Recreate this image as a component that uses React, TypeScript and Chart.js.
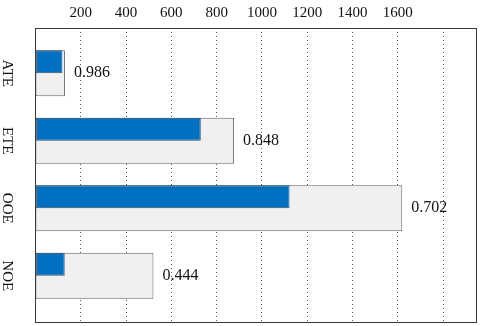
import React, { useEffect, useRef } from "react";
import { Chart, registerables } from "chart.js";

Chart.register(...registerables);

const categories = ["ATE", "ETE", "OOE", "NOE"];
const totalCounts = [130, 877, 1620, 521];
const correctCounts = [119, 730, 1122, 129];
const rateLabels = ["0.986", "0.848", "0.702", "0.444"];
const xTickValues = [200, 400, 600, 800, 1000, 1200, 1400, 1600, 1800];
const xTickLabels = ["200", "400", "600", "800", "1000", "1200", "1400", "1600", ""];

const FONT = "'Liberation Serif', 'DejaVu Serif', serif";

const overlayPlugin = {
  id: "overlay",
  afterDatasetsDraw(chart: any) {
    const { ctx, chartArea, scales } = chart;
    ctx.save();
    // plot frame
    const l = Math.floor(chartArea.left) + 0.5;
    const t = Math.floor(chartArea.top) + 0.5;
    const r = Math.floor(chartArea.right) - 0.5;
    const b = Math.floor(chartArea.bottom) - 0.5;
    ctx.strokeStyle = "#3a3a3a";
    ctx.lineWidth = 1;
    ctx.strokeRect(l, t, r - l, b - t);

    // value labels to the right of the grey bars
    const meta = chart.getDatasetMeta(2);
    ctx.fillStyle = "#111";
    ctx.font = `16px ${FONT}`;
    ctx.textAlign = "left";
    ctx.textBaseline = "middle";
    meta.data.forEach((bar: any, i: number) => {
      ctx.fillText(rateLabels[i], bar.x + 9, bar.y);
    });

    // category labels, rotated to read top-to-bottom
    ctx.font = `15px ${FONT}`;
    categories.forEach((c, i) => {
      const y = scales.y.getPixelForValue(i);
      ctx.save();
      ctx.translate(chartArea.left - 29, y);
      ctx.rotate(Math.PI / 2);
      ctx.textAlign = "center";
      ctx.textBaseline = "middle";
      ctx.fillText(c, 0, 0);
      ctx.restore();
    });
    ctx.restore();
  },
};

export default function App() {
  const ref = useRef<HTMLCanvasElement | null>(null);

  useEffect(() => {
    if (!ref.current) return;
    const chart = new Chart(ref.current, {
      type: "bar",
      data: {
        datasets: [
          {
            label: "correct",
            data: correctCounts.map((v, i) => ({ x: v, y: i })),
            backgroundColor: "#0070c0",
            borderColor: "#3d4f66",
            borderWidth: 1,
            borderSkipped: false,
            grouped: true,
            order: 0,
            categoryPercentage: 0.68,
            barPercentage: 1,
          } as any,
          {
            label: "spacer",
            data: categories.map((_, i) => ({ x: 0, y: i })),
            backgroundColor: "rgba(0,0,0,0)",
            borderWidth: 0,
            grouped: true,
            order: 1,
            categoryPercentage: 0.68,
            barPercentage: 1,
          } as any,
          {
            label: "total",
            data: totalCounts.map((v, i) => ({ x: v, y: i })),
            backgroundColor: "#f0f0f0",
            borderColor: "#666666",
            borderWidth: 1,
            borderSkipped: false,
            grouped: false,
            order: 2,
            categoryPercentage: 0.68,
            barPercentage: 1,
          } as any,
        ],
      },
      options: {
        indexAxis: "y",
        animation: false,
        responsive: false,
        devicePixelRatio: 1,
        layout: { padding: { left: 0, right: 4, top: 0, bottom: 3 } },
        plugins: { legend: { display: false }, tooltip: { enabled: false } },
        scales: {
          x: {
            type: "linear",
            position: "top",
            min: 0,
            max: 1950,
            offset: false,
            afterBuildTicks: (s: any) => {
              s.ticks = xTickValues.map((v) => ({ value: v }));
            },
            afterFit: (s: any) => {
              s.height = 28;
            },
            ticks: {
              callback: (_v: any, i: number) => xTickLabels[i],
              font: { family: FONT, size: 15 },
              color: "#111",
              padding: 6,
              autoSkip: false,
              maxRotation: 0,
            },
            grid: { color: "#555", lineWidth: 1, drawTicks: false, offset: false },
            border: { display: false, dash: [1, 3] },
          },
          y: {
            type: "linear",
            reverse: true,
            min: -0.67,
            max: 3.7,
            offset: false,
            afterBuildTicks: (s: any) => {
              s.ticks = categories.map((_, i) => ({ value: i }));
            },
            afterFit: (s: any) => {
              s.width = 35.5;
            },
            ticks: { display: false },
            grid: { display: false, offset: false },
            border: { display: false },
          },
        },
      } as any,
      plugins: [overlayPlugin],
    });
    return () => chart.destroy();
  }, []);

  return (
    <div style={{ position: "fixed", left: 0, top: 0, width: 481, height: 326, background: "#fff" }}>
      <canvas ref={ref} width={481} height={326} style={{ width: 481, height: 326 }} />
    </div>
  );
}
